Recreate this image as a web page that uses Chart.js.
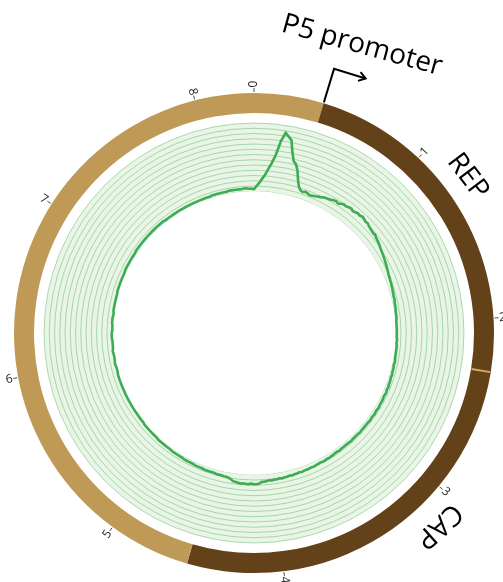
<!DOCTYPE html>
<html><head><meta charset="utf-8">
<script src="https://cdn.jsdelivr.net/npm/chart.js@4.4.1/dist/chart.umd.min.js"></script>
<style>
html,body{margin:0;padding:0;background:#fff;}
#wrap{position:relative;width:503px;height:582px;overflow:hidden;}
canvas{position:absolute;left:0;top:0;}
</style></head><body>
<div id="wrap"><canvas id="cov" width="503" height="582"></canvas><canvas id="ring" width="503" height="582"></canvas></div>
<script>
// ---------------- data ----------------
const genomeLength = 8.33;                       // kb, full circle
const tickValues = [0, 1, 2, 3, 4, 5, 6, 7, 8];  // kb ticks
const tickLabels = ['0', '1', '2', '3', '4', '5', '6', '7', '8'];
const featureNames = ['REP', 'CAP'];
const featureStart = [0.39, 2.30];
const featureEnd = [2.30, 4.54];
const promoterName = 'P5 promoter';
const promoterPosition = 0.39;
const gridLevels = 13;                           // coverage grid rings
// coverage, one value per 1/360 of the genome, in grid-ring units
const coverage = [
  0.4,1.0,1.6,2.4,3.2,4.4,5.6,7.2,9.9,11.6,
  11.0,10.4,8.2,6.6,6.1,5.0,3.4,2.2,1.6,1.4,
  1.6,1.5,1.3,1.4,1.5,1.7,1.8,2.0,2.1,2.2,
  2.3,2.5,2.6,2.4,2.7,2.9,2.8,3.0,3.1,2.9,
  3.0,3.2,3.1,3.3,3.2,3.0,3.1,2.9,2.8,2.7,
  2.6,2.7,2.5,2.4,2.3,2.2,2.0,1.9,1.8,1.7,
  1.6,1.5,1.4,1.3,1.2,1.1,1.0,0.9,0.9,0.8,
  0.8,0.7,0.7,0.6,0.6,0.5,0.5,0.5,0.4,0.4,
  0.4,0.3,0.3,0.3,0.3,0.2,0.2,0.2,0.2,0.2,
  0.2,0.2,0.2,0.3,0.2,0.3,0.3,0.3,0.3,0.3,
  0.3,0.4,0.4,0.3,0.4,0.4,0.4,0.5,0.4,0.5,
  0.5,0.5,0.6,0.5,0.6,0.6,0.5,0.6,0.6,0.6,
  0.6,0.7,0.6,0.6,0.7,0.6,0.6,0.7,0.6,0.6,
  0.6,0.6,0.6,0.7,0.6,0.6,0.6,0.6,0.7,0.6,
  0.6,0.6,0.6,0.6,0.7,0.6,0.6,0.7,0.7,0.8,
  0.7,0.8,0.8,0.7,0.8,0.8,0.9,0.8,0.9,0.9,
  0.9,1.0,0.9,1.0,1.0,1.1,1.0,1.1,1.1,1.2,
  1.1,1.2,1.2,1.3,1.2,1.3,1.4,1.4,1.7,1.8,
  1.8,1.7,1.8,1.8,1.7,1.8,1.7,1.6,1.5,1.2,
  1.0,0.9,0.9,0.8,0.8,0.8,0.7,0.7,0.7,0.7,
  0.7,0.6,0.6,0.6,0.6,0.5,0.5,0.5,0.5,0.5,
  0.4,0.4,0.4,0.4,0.4,0.4,0.3,0.3,0.3,0.3,
  0.3,0.3,0.3,0.2,0.2,0.2,0.2,0.2,0.2,0.2,
  0.2,0.1,0.1,0.1,0.1,0.1,0.1,0.1,0.1,0.1,
  0.1,0.1,0.1,0.1,0.1,0.1,0.1,0.1,0.1,0.1,
  0.1,0.1,0.1,0.1,0.0,0.0,0.0,0.1,0.1,0.0,
  0.0,0.0,0.1,0.1,0.0,0.0,0.0,0.0,0.1,0.1,
  0.1,0.0,0.0,0.0,0.1,0.1,0.1,0.0,0.0,0.1,
  0.1,0.1,0.1,0.1,0.1,0.1,0.1,0.2,0.2,0.2,
  0.2,0.2,0.2,0.2,0.2,0.2,0.3,0.3,0.3,0.3,
  0.3,0.3,0.3,0.3,0.3,0.4,0.4,0.4,0.4,0.4,
  0.4,0.4,0.4,0.4,0.4,0.4,0.4,0.4,0.4,0.4,
  0.4,0.4,0.3,0.3,0.3,0.3,0.3,0.3,0.3,0.3,
  0.3,0.3,0.3,0.3,0.3,0.3,0.3,0.3,0.3,0.3,
  0.3,0.3,0.3,0.4,0.4,0.4,0.4,0.4,0.4,0.4,
  0.5,0.5,0.5,0.5,0.5,0.5,0.6,0.6,0.5,0.5
];

// ---------------- styles ----------------
const tanColor = '#bf9a57';
const brownColor = '#63421a';
const bandColor = '#e9f5e5';
const gridColor = 'rgba(60,160,85,0.55)';
const lineColor = '#3dad55';
const textFont = '"Open Sans", "DejaVu Sans", sans-serif';

// ---------------- coverage (radar) ----------------
const binLabels = coverage.map((_, i) => (i * genomeLength / coverage.length).toFixed(3));
const baseline = coverage.map(() => 0);

new Chart(document.getElementById('cov'), {
  type: 'radar',
  data: {
    labels: binLabels,
    datasets: [
      { label: 'coverage', data: coverage, borderColor: lineColor, borderWidth: 2.6,
        fill: false, pointRadius: 0, tension: 0 },
      { label: 'base', data: baseline, borderWidth: 0, borderColor: 'rgba(0,0,0,0)',
        backgroundColor: '#ffffff', fill: 'start', pointRadius: 0 }
    ]
  },
  options: {
    responsive: false, animation: false, devicePixelRatio: 1, events: [],
    layout: { padding: { left: 44, right: 39, top: 123, bottom: 39 } },
    plugins: { legend: { display: false }, tooltip: { enabled: false } },
    scales: {
      r: {
        min: -27, max: gridLevels,
        backgroundColor: bandColor,
        ticks: { display: false, stepSize: 1 },
        pointLabels: { display: false },
        angleLines: { display: false },
        grid: {
          circular: true, lineWidth: 0.7,
          color: (c) => (c.tick && c.tick.value >= 0) ? gridColor : 'rgba(0,0,0,0)'
        }
      }
    }
  }
});

// ---------------- genome ring (doughnut) ----------------
const segLengths = [featureStart[0], featureEnd[0] - featureStart[0], featureEnd[1] - featureStart[1], genomeLength - featureEnd[1]];
const segColors = [tanColor, brownColor, brownColor, tanColor];

const ringText = {
  id: 'ringText',
  afterDraw(chart) {
    const ctx = chart.ctx;
    const arc = chart.getDatasetMeta(0).data[0];
    const cx = arc.x, cy = arc.y, R = arc.outerRadius, Ri = arc.innerRadius;
    const ang = (kb) => kb / genomeLength * Math.PI * 2;
    const pt = (a, r) => [cx + r * Math.sin(a), cy - r * Math.cos(a)];
    ctx.save();
    // REP / CAP junction
    const aj = ang(featureEnd[0]);
    let p1 = pt(aj, Ri + 0.5), p2 = pt(aj, R - 0.5);
    ctx.strokeStyle = '#d2ab66'; ctx.lineWidth = 2;
    ctx.beginPath(); ctx.moveTo(p1[0], p1[1]); ctx.lineTo(p2[0], p2[1]); ctx.stroke();
    // ticks
    ctx.strokeStyle = '#222'; ctx.fillStyle = '#222'; ctx.lineWidth = 0.8;
    ctx.font = '12px ' + textFont; ctx.textAlign = 'center'; ctx.textBaseline = 'middle';
    tickValues.forEach((v, i) => {
      const a = ang(v);
      const q1 = pt(a, R + 1), q2 = pt(a, R + 5);
      ctx.beginPath(); ctx.moveTo(q1[0], q1[1]); ctx.lineTo(q2[0], q2[1]); ctx.stroke();
      const q = pt(a, R + 9);
      ctx.save(); ctx.translate(q[0], q[1]);
      ctx.rotate(a <= Math.PI ? a - Math.PI / 2 : a + Math.PI / 2);
      ctx.fillText(tickLabels[i], 0, 0);
      ctx.restore();
    });
    // promoter arrow
    const ap = ang(promoterPosition);
    const b0 = pt(ap, R + 1), b1 = pt(ap, R + 36);
    const tx = Math.cos(ap), ty = Math.sin(ap);
    const b2 = [b1[0] + 33 * tx, b1[1] + 33 * ty];
    ctx.strokeStyle = '#000'; ctx.lineWidth = 2;
    ctx.beginPath(); ctx.moveTo(b0[0], b0[1]); ctx.lineTo(b1[0], b1[1]); ctx.lineTo(b2[0], b2[1]); ctx.stroke();
    const hd = Math.atan2(ty, tx);
    ctx.beginPath();
    ctx.moveTo(b2[0] - 8 * Math.cos(hd - 0.6), b2[1] - 8 * Math.sin(hd - 0.6));
    ctx.lineTo(b2[0], b2[1]);
    ctx.lineTo(b2[0] - 8 * Math.cos(hd + 0.6), b2[1] - 8 * Math.sin(hd + 0.6));
    ctx.stroke();
    // labels
    ctx.fillStyle = '#000';
    ctx.font = '28px ' + textFont;
    const placeText = (txt, a, r, rot) => {
      const q = pt(a, r);
      ctx.save(); ctx.translate(q[0], q[1]); ctx.rotate(rot); ctx.fillText(txt, 0, 0); ctx.restore();
    };
    placeText(promoterName, 20.6 * Math.PI / 180, 307, 15.4 * Math.PI / 180);
    placeText(featureNames[0], 53.8 * Math.PI / 180, 265, 53 * Math.PI / 180);
    placeText(featureNames[1], 136.2 * Math.PI / 180, 267, 138 * Math.PI / 180);
    ctx.restore();
  }
};

new Chart(document.getElementById('ring'), {
  type: 'doughnut',
  data: {
    labels: ['backbone', featureNames[0], featureNames[1], 'backbone'],
    datasets: [{ data: segLengths, backgroundColor: segColors, borderWidth: 0 }]
  },
  options: {
    responsive: false, animation: false, devicePixelRatio: 1, events: [],
    cutout: '91.6667%',
    layout: { padding: { left: 14, right: 9, top: 93, bottom: 9 } },
    plugins: { legend: { display: false }, tooltip: { enabled: false } }
  },
  plugins: [ringText]
});
</script></body></html>
